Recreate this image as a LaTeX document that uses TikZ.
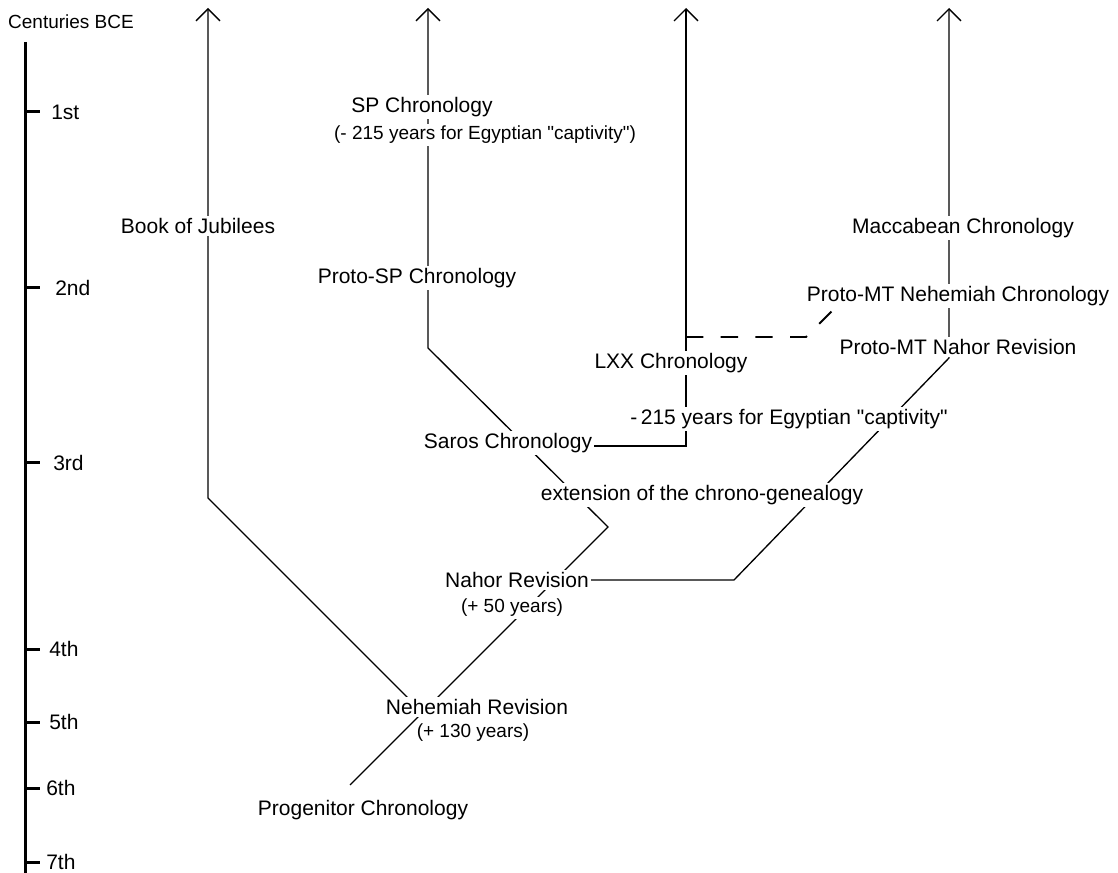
\documentclass[tikz,border=0pt]{standalone}
\usepackage{fontspec}
\setmainfont{Liberation Sans}
\usetikzlibrary{arrows.meta,backgrounds}

\tikzset{
  lbl/.style={fill=white,inner sep=1.5pt,font=\fontsize{15.75}{18}\selectfont},
  sublbl/.style={fill=white,inner sep=1.5pt,font=\fontsize{14.25}{16}\selectfont},
  branch/.style={line width=1pt},
  up/.style={branch,-{Straight Barb[length=9pt,width=18pt,line width=1pt]}},
  tick/.style={line width=2.25pt}
}

\begin{document}
\begin{tikzpicture}[x=0.75pt,y=-0.75pt]
\useasboundingbox (0,0) rectangle (1118,873);
\node[sublbl] (axis) at (71,22) {Centuries BCE};
\draw[tick] (25,42) -- (25,873);
\foreach \y/\x/\c in {112/49/1st,288/53/2nd,463/51/3rd,649/47/4th,722/47/5th,788/44/6th,862/44/7th}{
    \draw[tick] (25,\y) -- (40,\y);
    \node[lbl,anchor=west] (t\c) at (\x,\y) {\c};
}
\node[lbl] (jub) at (198,226) {Book of Jubilees};
\node[lbl] (sp) at (422,107) {SP Chronology};
\node[sublbl] (spsub) at (485,135) {(- 215 years for Egyptian \textquotedbl captivity\textquotedbl)};
\node[lbl] (protosp) at (417,278) {Proto-SP Chronology};
\node[lbl] (lxx) at (671,363) {LXX Chronology};
\node[lbl] (lxxsub) at (789,419) {-\,215 years for Egyptian \textquotedbl captivity\textquotedbl};
\node[lbl] (saros) at (508,443) {Saros Chronology};
\node[lbl] (ext) at (702,495) {extension of the chrono-genealogy};
\node[lbl] (nahor) at (517,580) {Nahor Revision};
\node[sublbl] (nahorsub) at (512,608) {(+ 50 years)};
\node[lbl] (nehem) at (477,707) {Nehemiah Revision};
\node[sublbl] (nehemsub) at (473,733) {(+ 130 years)};
\node[lbl] (prog) at (363,810) {Progenitor Chronology};
\node[lbl] (macc) at (963,228) {Maccabean Chronology};
\node[lbl] (pmtneh) at (958,296) {Proto-MT Nehemiah Chronology};
\node[lbl] (pmtnahor) at (958,347) {Proto-MT Nahor Revision};

\coordinate (root) at (350,785);
\coordinate (xnehem) at (422.5,712.5);
\coordinate (xnahor) at (555,580);
\coordinate (bend) at (608,527);
\coordinate (xsaros) at (527,446);
\coordinate (spfoot) at (428,348);
\coordinate (spend) at (428,8);
\coordinate (jubfoot) at (208,498);
\coordinate (jubend) at (208,8);
\coordinate (lxxfoot) at (686,446);
\coordinate (lxxdash) at (686,337);
\coordinate (lxxend) at (686,8);
\coordinate (dashbend) at (806,337);
\coordinate (dashend) at (846,297);
\coordinate (nahorbend) at (734,580);
\coordinate (mtfoot) at (949,358);
\coordinate (mtend) at (949,8);

\begin{scope}[on background layer]
\draw[up] (root) -- (bend) -- (spfoot) -- (spend);
\draw[up] (xnehem) -- (jubfoot) -- (jubend);
\draw[up] (xsaros) -- (lxxfoot) -- (lxxend);
\draw[branch,line width=1.4pt,dash pattern=on 13pt off 13pt] (lxxdash) -- (dashbend) -- (dashend);
\draw[up] (xnahor) -- (nahorbend) -- (mtfoot) -- (mtend);
\end{scope}
\end{tikzpicture}
\end{document}
